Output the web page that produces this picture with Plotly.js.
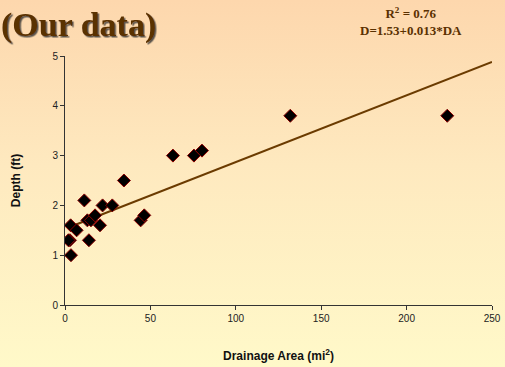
<!DOCTYPE html>
<html>
<head>
<meta charset="utf-8">
<script src="https://cdn.plot.ly/plotly-3.0.1.min.js"></script>
<style>
html,body{margin:0;padding:0;}
#chart{width:505px;height:367px;background:linear-gradient(to bottom,#fdd7ad 0%,#fee9bf 45%,#fff9c9 100%);}
</style>
</head>
<body>
<div id="chart"></div>
<script>
// Drainage area (mi^2) and bankfull depth (ft)
const drainageArea = [3.3, 2.9, 2.0, 3.5, 6.8, 11.3, 13.1, 14.0, 15.2, 17.6, 20.5, 22.0, 27.7, 34.5, 44.3, 46.4, 63.2, 75.5, 80.2, 131.9, 223.8];
const depth        = [1.6, 1.3, 1.3, 1.0, 1.5, 2.1,  1.7,  1.3,  1.7,  1.8,  1.6,  2.0,  2.0,  2.5,  1.7,  1.8,  3.0,  3.0,  3.1,  3.8,   3.8];
const trendIntercept = 1.53;
const trendSlope = 0.0134;
const trendRange = [Math.min(...drainageArea), 250];
const titleText = "(Our data)";
const eqLines = ["R<sup>2</sup> = 0.76", "D=1.53+0.013*DA"];
const xTicks = [0, 50, 100, 150, 200, 250];
const yTicks = [0, 1, 2, 3, 4, 5];

const brown = "#5a3000";
const traces = [
  {
    x: trendRange,
    y: trendRange.map(v => trendIntercept + trendSlope * v),
    mode: "lines",
    line: {color: "#6b3b00", width: 2},
    hoverinfo: "skip",
    showlegend: false
  },
  {
    x: drainageArea,
    y: depth,
    mode: "markers",
    marker: {symbol: "diamond", size: 10, color: "#000000", line: {color: "#8b0000", width: 1}},
    showlegend: false
  }
];

const layout = {
  width: 505, height: 367,
  margin: {l: 65, r: 13, t: 56, b: 62},
  paper_bgcolor: "rgba(0,0,0,0)",
  plot_bgcolor: "rgba(0,0,0,0)",
  font: {family: "Arial, Liberation Sans, sans-serif", size: 10, color: "#222"},
  xaxis: {
    range: [0, 250], tickvals: xTicks, ticktext: xTicks.map(String),
    showgrid: false, zeroline: false, showline: true, linecolor: "#333", linewidth: 1,
    ticks: "outside", ticklen: 4, tickcolor: "#333",
    title: {text: "<b>Drainage Area (mi<sup>2</sup>)</b>", font: {size: 12, color: "#111"}, standoff: 28}
  },
  yaxis: {
    range: [0, 5], tickvals: yTicks, ticktext: yTicks.map(String),
    showgrid: false, zeroline: false, showline: true, linecolor: "#333", linewidth: 1,
    ticks: "outside", ticklen: 4, tickcolor: "#333",
    title: {text: "<b>Depth (ft)</b>", font: {size: 12, color: "#111"}, standoff: 29}
  },
  annotations: [
    {text: "<b>" + titleText + "</b>", xref: "paper", yref: "paper", x: -0.154, y: 1.124,
     xanchor: "left", yanchor: "middle", showarrow: false,
     font: {family: "Liberation Serif, Times New Roman, serif", size: 34, color: brown}},
    {text: "<b>" + eqLines.join("<br>") + "</b>", xref: "paper", yref: "paper", x: 0.81, y: 1.137,
     xanchor: "center", yanchor: "middle", showarrow: false, align: "center",
     font: {family: "Liberation Serif, Times New Roman, serif", size: 13, color: brown}}
  ]
};

Plotly.newPlot("chart", traces, layout, {displayModeBar: false, staticPlot: true}).then(gd => {
  // subtle drop shadow on the big title, as in the reference
  const svg = gd.querySelector("svg.main-svg");
  const ns = "http://www.w3.org/2000/svg";
  let defs = svg.querySelector("defs");
  if (!defs) { defs = document.createElementNS(ns, "defs"); svg.insertBefore(defs, svg.firstChild); }
  const f = document.createElementNS(ns, "filter");
  f.setAttribute("id", "titleShadow");
  f.setAttribute("x", "-10%"); f.setAttribute("y", "-10%");
  f.setAttribute("width", "130%"); f.setAttribute("height", "140%");
  const ds = document.createElementNS(ns, "feDropShadow");
  ds.setAttribute("dx", "1.5"); ds.setAttribute("dy", "1.5");
  ds.setAttribute("stdDeviation", "0.4");
  ds.setAttribute("flood-color", "#333"); ds.setAttribute("flood-opacity", "0.8");
  f.appendChild(ds); defs.appendChild(f);
  const ann = gd.querySelectorAll(".annotation-text");
  if (ann.length) ann[0].setAttribute("filter", "url(#titleShadow)");
});
</script>
</body>
</html>
